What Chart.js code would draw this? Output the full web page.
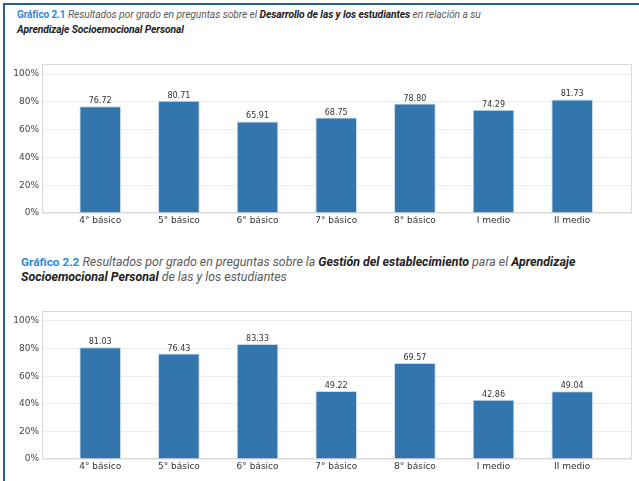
<!DOCTYPE html>
<html>
<head>
<meta charset="utf-8">
<script src="https://cdn.jsdelivr.net/npm/chart.js@4.4.0/dist/chart.umd.min.js"></script>
<style>
  html, body { margin: 0; padding: 0; background: #fff; }
  body { width: 639px; height: 481px; position: relative; overflow: hidden; }
  .frame-top { position: absolute; left: 3px; top: 3px; width: 636px; height: 2px; background: #2c5d93; }
  .frame-left { position: absolute; left: 3px; top: 3px; width: 2px; height: 478px; background: #2c5d93; }
  .title { position: absolute; font-family: Roboto, "Open Sans", sans-serif; color: #5a5a5a; font-style: italic; white-space: nowrap; }
  .title .g { color: #2f8ad0; font-weight: bold; font-style: normal; }
  .title b { color: #222; font-weight: bold; }
  .t1 { left: 17px; top: 7px; font-size: 10.3px; line-height: 15px; letter-spacing: -0.1px; }
  .t1 .g { font-size: 10px; }
  .t2 { left: 21px; top: 255px; font-size: 12.4px; line-height: 13.5px; }
  .t2 .g { font-size: 11.8px; }
  canvas { position: absolute; left: 0; }
</style>
</head>
<body>
<div class="frame-top"></div>
<div class="frame-left"></div>
<div class="title t1"><span class="g">Gráfico 2.1</span> Resultados por grado en preguntas sobre el <b>Desarrollo de las y los estudiantes</b> en relación a su<br><b>Aprendizaje Socioemocional Personal</b></div>
<div class="title t2"><span class="g">Gráfico 2.2</span> Resultados por grado en preguntas sobre la <b>Gestión del establecimiento</b> para el <b>Aprendizaje</b><br><b>Socioemocional Personal</b> de las y los estudiantes</div>
<canvas id="c1" width="639" height="190" style="top:50px;"></canvas>
<canvas id="c2" width="639" height="185" style="top:296px;"></canvas>
<script>
const categories = ["4° básico", "5° básico", "6° básico", "7° básico", "8° básico", "I medio", "II medio"];
const desarrolloValues = [76.72, 80.71, 65.91, 68.75, 78.80, 74.29, 81.73];
const gestionValues = [81.03, 76.43, 83.33, 49.22, 69.57, 42.86, 49.04];
const yTickValues = [0, 20, 40, 60, 80, 100];

const boxPlugin = {
  id: 'boxPlugin',
  beforeDatasetsDraw(chart) {
    const a = chart.chartArea, ctx = chart.ctx;
    ctx.save();
    ctx.strokeStyle = '#d9d9d9';
    ctx.lineWidth = 1;
    ctx.strokeRect(a.left + 0.5, a.top + 0.5, a.right - a.left - 1, a.bottom - a.top - 1);
    ctx.restore();
  },
  afterDatasetsDraw(chart) {
    const ctx = chart.ctx;
    ctx.save();
    ctx.font = '8px "DejaVu Sans"';
    ctx.fillStyle = '#333';
    ctx.textAlign = 'center';
    ctx.textBaseline = 'bottom';
    chart.data.datasets.forEach((ds, di) => {
      chart.getDatasetMeta(di).data.forEach((bar, i) => {
        ctx.fillText(ds.data[i].y.toFixed(2), bar.x, bar.y - 1);
      });
    });
    ctx.restore();
  }
};

function makeChart(id, values, padTop, xHeight) {
  return new Chart(document.getElementById(id), {
    type: 'bar',
    data: {
      datasets: [{
        data: values.map((v, i) => ({ x: i, y: v })),
        backgroundColor: '#3375ad',
        borderColor: '#c9dcee',
        borderWidth: 1,
        barPercentage: 0.53,
        categoryPercentage: 1
      }]
    },
    options: {
      responsive: false,
      animation: false,
      layout: { padding: { top: padTop, right: 7, left: 0, bottom: 0 } },
      plugins: { legend: { display: false }, tooltip: { enabled: false } },
      scales: {
        x: {
          type: 'linear',
          min: -0.74,
          max: 6.76,
          offset: false,
          grid: { display: false, drawTicks: false, offset: false },
          border: { display: false },
          ticks: {
            stepSize: 1,
            includeBounds: false,
            autoSkip: false,
            maxRotation: 0,
            padding: 2,
            color: '#333',
            font: { family: '"DejaVu Sans"', size: 9 },
            callback: (v) => Number.isInteger(v) && categories[v] !== undefined ? categories[v] : ''
          },
          afterFit: (s) => { s.height = xHeight; }
        },
        y: {
          min: 0,
          max: 107.2,
          grid: { color: '#ececec', drawTicks: false },
          border: { display: false },
          afterBuildTicks: (s) => { s.ticks = yTickValues.map(v => ({ value: v })); },
          ticks: {
            padding: 3,
            color: '#444',
            font: { family: '"DejaVu Sans"', size: 9 },
            callback: (v) => v + '%'
          },
          afterFit: (s) => { s.width = 42; }
        }
      }
    },
    plugins: [boxPlugin]
  });
}

makeChart('c1', desarrolloValues, 14, 27);
makeChart('c2', gestionValues, 15, 22);
</script>
</body>
</html>
